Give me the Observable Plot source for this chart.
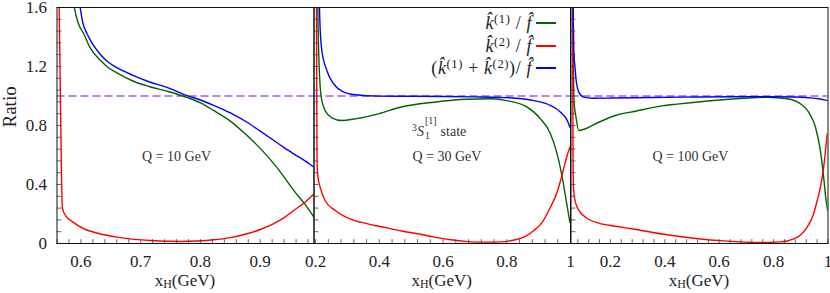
<!DOCTYPE html>
<html><head><meta charset="utf-8">
<script src="https://cdn.jsdelivr.net/npm/d3@7"></script>
<script src="https://cdn.jsdelivr.net/npm/@observablehq/plot@0.6"></script>
<style>
body{margin:0;background:#fff;}
#chart{position:relative;width:830px;height:293px;font-family:"Liberation Serif","DejaVu Serif","Times New Roman",serif;color:#222;overflow:hidden;}
.ov{position:absolute;white-space:nowrap;line-height:1;}
.ov sup{font-size:0.7em;vertical-align:0.5em;line-height:0;}
.ov sub{font-size:0.7em;vertical-align:-0.25em;line-height:0;}
.stack{display:inline-block;font-size:10px;line-height:15px;vertical-align:-3px;margin-left:1px;margin-right:4px;}
.stack span{display:block;}
</style></head><body><div id="chart"></div>
<script>
// ---- data: Q = 10 GeV ----
const x10_k1 = [0.587,0.590,0.595,0.605,0.615,0.633,0.645,0.661,0.688,0.715,0.744,0.778,0.800,0.822,0.850,0.878,0.900,0.923,0.940,0.956,0.975,0.990];
const y10_k1 = [1.65,1.58,1.50,1.42,1.33,1.24,1.195,1.155,1.10,1.063,1.033,0.990,0.953,0.902,0.830,0.732,0.645,0.540,0.450,0.360,0.265,0.178];
const x10_k2 = [0.5635,0.566,0.569,0.575,0.585,0.605,0.630,0.661,0.690,0.716,0.745,0.767,0.795,0.822,0.850,0.878,0.900,0.922,0.940,0.956,0.975,0.990];
const y10_k2 = [1.65,0.90,0.24,0.185,0.15,0.10,0.068,0.043,0.028,0.020,0.015,0.014,0.017,0.025,0.040,0.066,0.095,0.133,0.175,0.224,0.280,0.337];
const x10_sum = [0.597,0.603,0.6105,0.620,0.633,0.645,0.661,0.688,0.715,0.744,0.778,0.800,0.822,0.850,0.878,0.900,0.923,0.940,0.956,0.975,0.990];
const y10_sum = [1.65,1.50,1.42,1.35,1.28,1.232,1.19,1.138,1.095,1.058,1.002,0.973,0.937,0.885,0.822,0.762,0.698,0.650,0.608,0.560,0.517];
// ---- data: Q = 30 GeV ----
const x30_k1 = [0.2065,0.2085,0.2113,0.2176,0.2302,0.2509,0.2823,0.3243,0.3975,0.4665,0.571,0.676,0.749,0.800,0.864,0.906,0.937,0.958,0.974,0.990,0.998];
const y30_k1 = [1.65,1.40,1.195,0.992,0.900,0.852,0.834,0.845,0.879,0.924,0.958,0.978,0.981,0.969,0.924,0.845,0.744,0.608,0.450,0.246,0.144];
const x30_k2 = [0.2028,0.2036,0.2045,0.207,0.2145,0.2302,0.2616,0.310,0.360,0.414,0.470,0.520,0.570,0.624,0.676,0.728,0.780,0.820,0.860,0.885,0.910,0.937,0.955,0.969,0.980,0.990,0.998];
const y30_k2 = [1.65,1.00,0.56,0.46,0.38,0.29,0.224,0.165,0.135,0.110,0.085,0.066,0.045,0.025,0.013,0.009,0.011,0.022,0.050,0.088,0.140,0.246,0.330,0.427,0.520,0.600,0.653];
const x30_sum = [0.2115,0.2135,0.2195,0.2352,0.2562,0.2823,0.3243,0.400,0.500,0.600,0.700,0.780,0.830,0.885,0.937,0.969,0.990,0.998];
const y30_sum = [1.65,1.50,1.31,1.173,1.083,1.033,1.008,0.999,0.998,0.997,0.994,0.990,0.985,0.969,0.936,0.890,0.834,0.788];
// ---- data: Q = 100 GeV ----
const x100_k1 = [0.0622,0.064,0.0665,0.0715,0.0837,0.1083,0.1572,0.2186,0.2921,0.380,0.445,0.568,0.690,0.776,0.850,0.899,0.929,0.954,0.972,0.984,0.993,0.999];
const y100_k1 = [1.65,1.20,0.95,0.879,0.766,0.778,0.822,0.868,0.897,0.930,0.945,0.968,0.985,0.992,0.981,0.947,0.890,0.788,0.630,0.450,0.290,0.224];
const x100_k2 = [0.0612,0.0618,0.0628,0.064,0.068,0.0778,0.090,0.1083,0.1572,0.2186,0.280,0.384,0.506,0.629,0.752,0.825,0.874,0.900,0.923,0.945,0.960,0.975,0.984,0.997];
const y100_k2 = [1.65,1.00,0.50,0.38,0.31,0.246,0.21,0.178,0.138,0.117,0.100,0.066,0.036,0.016,0.007,0.011,0.032,0.060,0.110,0.190,0.290,0.410,0.517,0.744];
const x100_sum = [0.0622,0.0653,0.070,0.0741,0.0837,0.102,0.133,0.200,0.350,0.500,0.650,0.800,0.880,0.930,0.970,0.999];
const y100_sum = [1.65,1.31,1.19,1.105,1.026,0.992,0.985,0.986,0.990,0.993,0.995,0.995,0.993,0.988,0.980,0.969];

// ---- axes / ticks ----
const yTicks = [0, 0.4, 0.8, 1.2, 1.6];
const xTicks10 = [0.6, 0.7, 0.8, 0.9];
const xTicks30 = [0.2, 0.4, 0.6, 0.8, 1];
const xTicks100 = [0.2, 0.4, 0.6, 0.8, 1];
const notes = ["Q = 10 GeV", "Q = 30 GeV", "Q = 100 GeV"];
const seriesNames = ["k1", "k2", "sum"];
const colors = ["#006400", "#ff0000", "#0000ff"];
const legendLabels = [
  '<i>k&#770;</i><sup>(1)</sup>&nbsp;/&nbsp;<i>f&#770;</i>',
  '<i>k&#770;</i><sup>(2)</sup>&nbsp;/&nbsp;<i>f&#770;</i>',
  '(<i>k&#770;</i><sup>(1)</sup>&nbsp;+&nbsp;<i>k&#770;</i><sup>(2)</sup>)/&nbsp;<i>f&#770;</i>'
];
const xLabel = 'x<sub>H</sub>(GeV)';
const yLabel = "Ratio";
const stateLabel = '<sup>3</sup><i>S</i><span class="stack"><span>[1]</span><span>1</span></span>state';

const r2 = v => +v.toFixed(2);
const minorY = d3.range(0, 1.6001, 0.08).map(r2);

const W = 830, H = 293, MT = 7, MB = 50;
const panels = [
  {domain: [0.56, 0.99], left: 56.5, right: 313.5, ticks: xTicks10, minor: d3.range(0.56, 0.9901, 0.02).map(r2),
   xs: [x10_k1, x10_k2, x10_sum], ys: [y10_k1, y10_k2, y10_sum], note: notes[0], noteX: 0.76, anchor: "middle"},
  {domain: [0.195, 1], left: 313.5, right: 570, ticks: xTicks30, minor: d3.range(0.2, 1.0001, 0.04).map(r2),
   xs: [x30_k1, x30_k2, x30_sum], ys: [y30_k1, y30_k2, y30_sum], note: notes[1], noteX: 0.504, anchor: "start"},
  {domain: [0.055, 1], left: 570.5, right: 827.5, ticks: xTicks100, minor: d3.range(0.08, 1.0001, 0.04).map(r2),
   xs: [x100_k1, x100_k2, x100_sum], ys: [y100_k1, y100_k2, y100_sum], note: notes[2], noteX: 0.494, anchor: "middle"}
];

const tickShape = {draw(context, l) { context.moveTo(0, 0); context.lineTo(0, -l); }};
const FONT = "Liberation Serif, DejaVu Serif, serif";
const chart = document.getElementById("chart");

panels.forEach((p, k) => {
  const marks = [
    Plot.ruleY([1], {stroke: "#9400d3", strokeWidth: 1.2, strokeDasharray: "8,4"}),
    ...p.xs.map((xs, i) => Plot.line(xs.map((x, j) => ({x, y: p.ys[i][j], s: seriesNames[i]})),
      {x: "x", y: "y", stroke: colors[i], strokeWidth: 1.4, curve: "monotone-x", clip: true})),
    Plot.vector(p.minor, {x: d => d, y: 0, length: 4, rotate: 0, anchor: "start", shape: tickShape, stroke: "#444", strokeWidth: 0.8}),
    Plot.vector(minorY, {x: p.domain[0], y: d => d, length: 4, rotate: 90, anchor: "start", shape: tickShape, stroke: "#444", strokeWidth: 0.8}),
    Plot.frame({stroke: "#111", strokeWidth: 1}),
    Plot.axisX({ticks: p.ticks, tickSize: 0, tickPadding: 11, tickFormat: d => String(d), fontSize: 17, fontFamily: FONT, label: null, fill: "#222"}),
    Plot.text([p.note], {x: p.noteX, y: 0.59, textAnchor: p.anchor, fontSize: 14, fontFamily: FONT, fill: "#333"})
  ];
  if (k === 0) {
    marks.push(
      Plot.axisY({ticks: yTicks, tickSize: 0, tickPadding: 10, tickFormat: d => d === 0 ? "0" : d.toFixed(1), fontSize: 17, fontFamily: FONT, label: null, fill: "#222"}),
      Plot.text([yLabel], {frameAnchor: "left", dx: -47, dy: 2, rotate: -90, fontSize: 19, fontFamily: FONT, fill: "#222"})
    );
  }
  const svg = Plot.plot({
    width: W, height: H, marginLeft: p.left, marginRight: W - p.right, marginTop: MT, marginBottom: MB,
    x: {domain: p.domain},
    y: {domain: [0, 1.6], ...(k === 0 ? {} : {axis: null})},
    style: {position: "absolute", left: "0px", top: "0px", background: "transparent", fontFamily: FONT, overflow: "visible"},
    marks
  });
  chart.appendChild(svg);
  const lab = document.createElement("div");
  lab.className = "ov";
  lab.style.cssText = `left:${(p.left + p.right) / 2}px;top:280px;transform:translate(-50%,-50%);font-size:17px;`;
  lab.innerHTML = xLabel;
  chart.appendChild(lab);
});

// state label
const st = document.createElement("div");
st.className = "ov";
st.style.cssText = "left:412px;top:113px;font-size:14px;color:#333;";
st.innerHTML = stateLabel;
chart.appendChild(st);

// legend
const legendY = [23, 46, 68];
legendLabels.forEach((html, i) => {
  const t = document.createElement("div");
  t.className = "ov";
  t.style.cssText = `right:${830 - 532}px;top:${legendY[i]}px;transform:translateY(-50%);font-size:18px;letter-spacing:0.6px;`;
  t.innerHTML = html;
  chart.appendChild(t);
  const l = document.createElement("div");
  l.style.cssText = `position:absolute;left:536px;width:20px;top:${legendY[i] - 0.75}px;height:1.5px;background:${colors[i]};`;
  chart.appendChild(l);
});
</script></body></html>
